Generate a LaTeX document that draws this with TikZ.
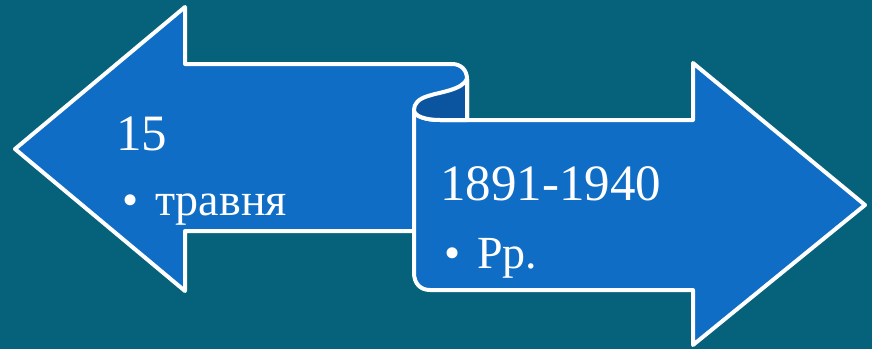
\documentclass[tikz,border=0pt]{standalone}
\usepackage{fontspec}
\setmainfont{Liberation Serif}[Numbers=OldStyle]
\definecolor{bgteal}{HTML}{05627A}
\definecolor{scrollblue}{HTML}{0F6DC5}
\definecolor{curlblue}{HTML}{0B54A0}
\begin{document}
\begin{tikzpicture}[x=1pt, y=-1pt,
  band/.style={fill=scrollblue, draw=white, line width=4pt, line join=round},
  curl/.style={fill=curlblue, draw=white, line width=4pt, line join=round},
  title/.style={text=white, font=\fontsize{51}{58}\selectfont, anchor=base west, inner sep=0pt},
  item/.style={text=white, font=\fontsize{46}{52}\selectfont, anchor=base west, inner sep=0pt},
]
\useasboundingbox (0,0) rectangle (872,349);
\fill[bgteal] (0,0) rectangle (872,349);

% left arrow, its end rolled up
\draw[band] (15,149) -- (185,7) -- (185,64) -- (452,64)
  .. controls (461,64) and (467,70) .. (467,79) -- (467,120) -- (414,120)
  -- (414,231) -- (185,231) -- (185,291) -- cycle;

% right arrow
\draw[band] (440,120) -- (693,120) -- (693,63) -- (865,205) -- (693,345)
  -- (693,290) -- (430,290) .. controls (420,290) and (414,283) .. (414,273)
  -- (414,110) .. controls (414,116) and (425,120) .. (440,120) -- cycle;

% inside of the curl
\draw[curl] (467,79) .. controls (462,90) and (440,92) .. (428,96)
  .. controls (418,99) and (414,104) .. (414,110)
  .. controls (414,116) and (425,120) .. (440,120) -- (467,120) -- cycle;

% texts
\node[title] (day) at (116,150) {15};
\node[item] (month) at (122,215) {\textbullet\hspace{17pt}травня};
\node[title] (years) at (440,200) {1891-1940};
\node[item] (era) at (444,268) {\textbullet\hspace{17pt}Рр.};
\end{tikzpicture}
\end{document}
